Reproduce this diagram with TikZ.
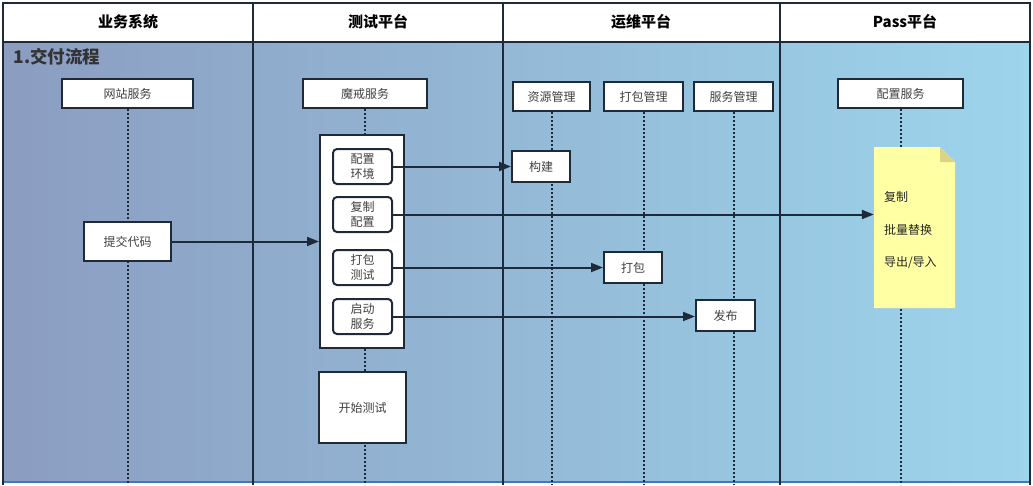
\documentclass[tikz,border=0pt]{standalone}
\usepackage{fontspec}
\setmainfont{Noto Sans CJK SC}
\usetikzlibrary{arrows.meta}
\definecolor{linedark}{HTML}{1F2A38}
\definecolor{textgray}{HTML}{404040}
\definecolor{laneleft}{HTML}{8B9DC1}
\definecolor{lanemid}{HTML}{8FB8D8}
\definecolor{laneright}{HTML}{9DD5EC}
\definecolor{notefill}{HTML}{FFFFA3}
\definecolor{notefold}{HTML}{DCD384}
\definecolor{bottomblue}{HTML}{3A7BB8}
\begin{document}
\begin{tikzpicture}[x=1pt,y=-1pt]
\tikzstyle{lane} = [draw=linedark, line width=2pt]
\tikzstyle{title} = [font=\fontsize{15}{18}\selectfont\bfseries, text=black]
\tikzstyle{head} = [draw=linedark, line width=2pt, fill=white, minimum height=29pt, inner sep=0pt, font=\fontsize{12}{14}\selectfont, text=textgray]
\tikzstyle{step_box} = [draw=linedark, line width=2pt, fill=white, inner sep=0pt, font=\fontsize{12}{14}\selectfont, text=textgray, align=center]
\tikzstyle{sub_box} = [step_box, rounded corners=4pt, minimum width=59pt, minimum height=35pt, font=\fontsize{12}{15}\selectfont]
\tikzstyle{life} = [draw=linedark, line width=2pt, dash pattern=on 2pt off 2pt]
\tikzstyle{msg} = [draw=linedark, line width=2pt, -{Triangle[length=12pt, width=9pt]}]
\useasboundingbox (0,0) rectangle (1033,485);
\coordinate (bottom) at (0,485);

%lanes
\fill[white] (3,3) rectangle (1030,42);
\shade[left color=laneleft, middle color=lanemid, right color=laneright] (3,42) rectangle (1030,482);
\draw[bottomblue, line width=2pt] (3,482) -- (1030,482);
\draw[lane] (3,485) -- (3,3) -- (1030,3) -- (1030,485);
\draw[lane] (3,42) -- (1030,42);
\foreach \x in {253, 503, 780}
	\draw[lane] (\x,3) -- (\x,485);

\foreach \name/\x/\txt in {sys/128/业务系统, test/378/测试平台, ops/641/运维平台, pass/905/Pass平台}
	\node[title] (\name) at (\x,22) {\txt};
\node[title, anchor=west, text=black!80, font=\fontsize{17.5}{20}\selectfont\bfseries] (flow) at (10,57) {1.交付流程};

%lifelines
\foreach \name/\x/\y/\w/\txt in {web/127.5/93.5/131/网站服务, ring/365/93.5/124/魔戒服务, res/551.5/96.5/77/资源管理, pkg/643.5/96.5/79/打包管理, svc/733.5/96.5/79/服务管理, conf/900.5/93.5/125/配置服务}
	\node[head, minimum width=\w] (\name) at (\x,\y) {\txt};

\foreach \name in {web, ring, res, pkg, svc, conf}
	\draw[life] (\name.south) -- (\name.south |- bottom);

%steps
\node[step_box, minimum width=84pt, minimum height=213pt] (ring_act) at (362,241.5) {};
\foreach \name/\y/\txt in {cfg_env/166.5/配置\\环境, copy_cfg/214.5/复制\\配置, pack_test/267.5/打包\\测试, start_svc/316.5/启动\\服务}
	\node[sub_box] (\name) at (362.5,\y) {\txt};

\node[step_box, minimum width=87pt, minimum height=39pt] (submit) at (127.5,241.5) {提交代码};
\node[step_box, minimum width=58pt, minimum height=31pt] (build) at (541,166.5) {构建};
\node[step_box, minimum width=58pt, minimum height=31pt] (pack) at (633,267.5) {打包};
\node[step_box, minimum width=59pt, minimum height=31pt] (release) at (725.5,315.5) {发布};
\node[step_box, minimum width=87pt, minimum height=71pt] (start_test) at (362.5,407.5) {开始测试};

%note
\fill[notefill] (874,147) -- (940,147) -- (955,162) -- (955,308) -- (874,308) -- cycle;
\fill[notefold] (940,147) -- (955,162) -- (940,162) -- cycle;
\node[minimum width=81pt, minimum height=161pt, inner xsep=10pt, text width=61pt, align=left, font=\fontsize{12}{32.5}\selectfont, text=black!85] (copy_note) at (914.5,230.5) {复制\\批量替换\\导出/导入};

%messages
\draw[msg] (submit.east) -- (ring_act.west);
\draw[msg] (cfg_env.east) -- (cfg_env.east -| build.west);
\draw[msg] (copy_cfg.east) -- (copy_cfg.east -| copy_note.west);
\draw[msg] (pack_test.east) -- (pack_test.east -| pack.west);
\draw[msg] (start_svc.east) -- (start_svc.east -| release.west);
\end{tikzpicture}
\end{document}
